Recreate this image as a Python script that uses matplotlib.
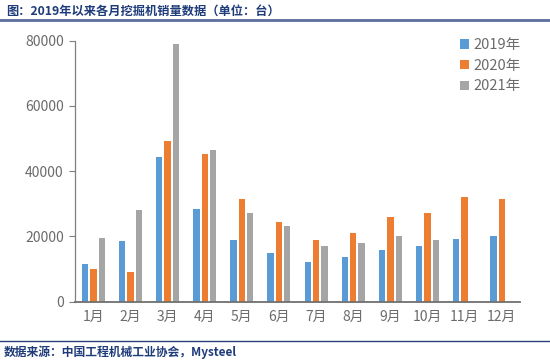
import matplotlib.pyplot as plt
import numpy as np

plt.rcParams['font.family'] = ['Noto Sans CJK SC', 'DejaVu Sans']

months = ['1月', '2月', '3月', '4月', '5月', '6月', '7月', '8月', '9月', '10月', '11月', '12月']
sales_2019 = [11700, 18700, 44200, 28500, 18800, 15000, 12200, 13800, 15800, 17000, 19300, 20000]
sales_2020 = [10000, 9100, 49400, 45300, 31600, 24400, 18900, 21000, 26000, 27300, 32100, 31400]
sales_2021 = [19600, 28100, 78900, 46500, 27100, 23100, 17200, 18100, 20000, 18900]
series_labels = ['2019年', '2020年', '2021年']
colors = ['#5B9BD5', '#ED7D31', '#A5A5A5']

title_color = '#1F3C7A'
label_color = '#6b6b6b'

fig = plt.figure(figsize=(5.5, 3.62), dpi=100)
ax = fig.add_axes([0.136, 0.1666, 0.81, 0.721])

x = np.arange(len(months))
bw = 0.17
step = 0.225
for i, (vals, lab, c) in enumerate(zip([sales_2019, sales_2020, sales_2021], series_labels, colors)):
    xs = x[:len(vals)] + (i - 1) * step
    ax.bar(xs, vals, width=bw, color=c, label=lab)

ax.set_xlim(-0.5, len(months) - 0.5)
ax.set_ylim(0, 80000)
ax.set_yticks(np.arange(0, 80001, 20000))
ax.set_xticks(x, months)
ax.tick_params(axis='x', length=0, labelsize=10, labelcolor=label_color, pad=6)
ax.tick_params(axis='y', length=4, width=0.8, color='#7f7f7f', labelsize=10,
               labelcolor=label_color, pad=4)
ax.spines['top'].set_visible(False)
ax.spines['right'].set_visible(False)
ax.spines['left'].set_color('#7f7f7f')
ax.spines['left'].set_linewidth(0.9)
ax.spines['bottom'].set_color('#6f6f6f')
ax.spines['bottom'].set_linewidth(1.3)

leg = ax.legend(loc='upper right', bbox_to_anchor=(1.03, 1.06), frameon=False, fontsize=10.5,
                handlelength=0.6, handleheight=0.6, handletextpad=0.3, labelspacing=0.45)
for t in leg.get_texts():
    t.set_color(label_color)

fig.text(0.012, 0.97, '图：2019年以来各月挖掘机销量数据（单位：台）', fontsize=8.8,
         fontweight='bold', color=title_color, va='center', ha='left')
fig.add_artist(plt.Line2D([0, 1], [0.945, 0.945], transform=fig.transFigure,
                          color='#5B6E9C', linewidth=2))
fig.add_artist(plt.Line2D([0, 1], [0.058, 0.058], transform=fig.transFigure,
                          color='#2B3F7A', linewidth=1))
fig.text(0.006, 0.028, '数据来源：中国工程机械工业协会，Mysteel', fontsize=8.5,
         fontweight='bold', color=title_color, va='center', ha='left')

fig.savefig('out.png', dpi=100)
